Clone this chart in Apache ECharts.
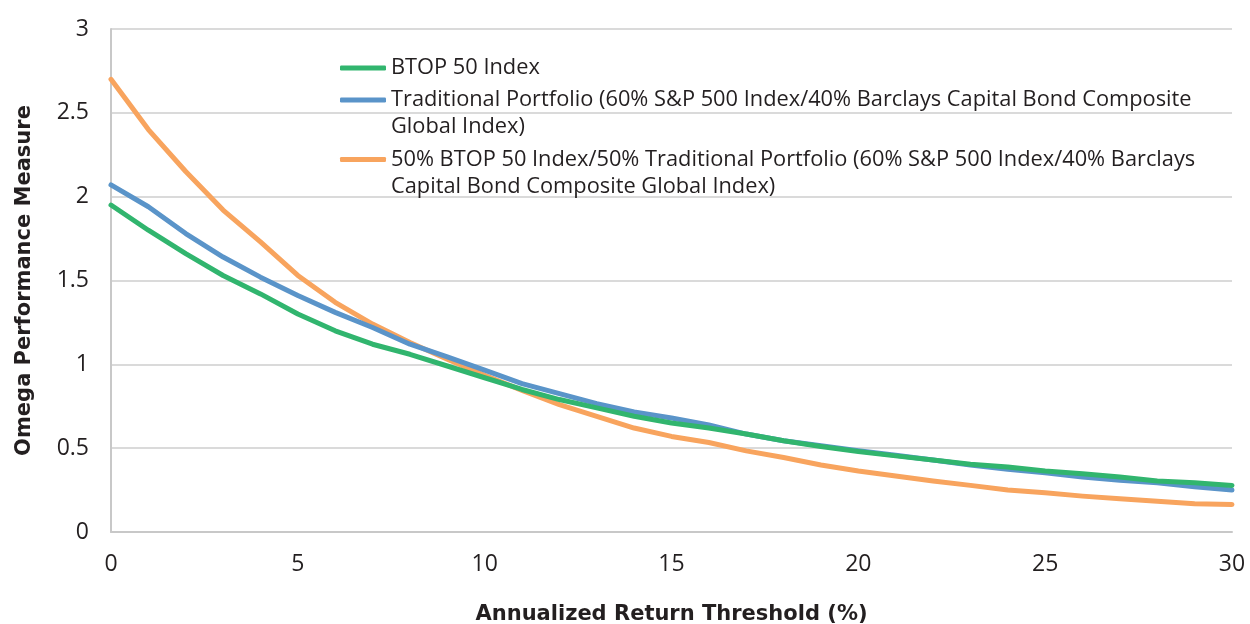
<!DOCTYPE html>
<html>
<head>
<meta charset="utf-8">
<script src="https://cdn.jsdelivr.net/npm/echarts@6/dist/echarts.min.js"></script>
<style>
html,body{margin:0;padding:0;background:#fff;}
#chart{width:1250px;height:624px;}
</style>
</head>
<body>
<div id="chart"></div>
<script>
const thresholds = [0,1,2,3,4,5,6,7,8,9,10,11,12,13,14,15,16,17,18,19,20,21,22,23,24,25,26,27,28,29,30];
const btop50 = [1.95,1.80,1.66,1.53,1.42,1.30,1.20,1.12,1.06,0.99,0.92,0.85,0.79,0.74,0.69,0.65,0.62,0.584,0.544,0.51,0.48,0.454,0.43,0.404,0.388,0.364,0.348,0.328,0.304,0.294,0.278];
const traditional = [2.07,1.94,1.78,1.64,1.52,1.41,1.31,1.22,1.12,1.045,0.965,0.885,0.825,0.766,0.716,0.68,0.638,0.584,0.544,0.514,0.484,0.458,0.43,0.40,0.374,0.354,0.328,0.308,0.294,0.27,0.25];
const blended = [2.70,2.40,2.15,1.92,1.73,1.53,1.37,1.24,1.13,1.03,0.935,0.845,0.76,0.69,0.62,0.57,0.534,0.484,0.444,0.40,0.364,0.334,0.304,0.278,0.25,0.234,0.214,0.198,0.184,0.168,0.164];

const seriesNames = [
  "BTOP 50 Index",
  "Traditional Portfolio (60% S&P 500 Index/40% Barclays Capital Bond Composite Global Index)",
  "50% BTOP 50 Index/50% Traditional Portfolio (60% S&P 500 Index/40% Barclays Capital Bond Composite Global Index)"
];
const legendLabels = [
  "BTOP 50 Index",
  "\nTraditional Portfolio (60% S&P 500 Index/40% Barclays Capital Bond Composite\nGlobal Index)",
  "\n50% BTOP 50 Index/50% Traditional Portfolio (60% S&P 500 Index/40% Barclays\nCapital Bond Composite Global Index)"
];
const colors = ["#31b56e", "#5a94c9", "#f8a45e"];
const values = [btop50, traditional, blended];
const legendTops = [54.5, 59.5, 119];

const FONT = "'Open Sans'";
const TITLE_FONT = "'DejaVu Sans'";
const TEXT = "#231f20";

const chart = echarts.init(document.getElementById('chart'), null, {renderer: 'canvas'});

const legends = seriesNames.map((n, i) => ({
  data: [n],
  orient: 'vertical',
  left: 340,
  top: legendTops[i],
  padding: 0,
  icon: 'roundRect',
  itemWidth: 46,
  itemHeight: 5,
  selectedMode: false,
  formatter: () => legendLabels[i],
  textStyle: {fontFamily: FONT, fontSize: 21.8, color: TEXT, lineHeight: 27}
}));

const series = seriesNames.map((n, i) => ({
  name: n,
  type: 'line',
  data: thresholds.map((x, j) => [x, values[i][j]]),
  symbol: 'none',
  smooth: false,
  color: colors[i],
  itemStyle: {color: colors[i]},
  lineStyle: {width: 5, color: colors[i], cap: 'round', join: 'round'},
  z: 3 - i
}));

chart.setOption({
  animation: false,
  backgroundColor: '#ffffff',
  grid: {left: 111, top: 29, right: 18, bottom: 92, containLabel: false, outerBoundsMode: 'none'},
  legend: legends,
  xAxis: {
    type: 'value', min: 0, max: 30, interval: 5,
    name: 'Annualized Return Threshold (%)',
    nameLocation: 'middle', nameGap: 72,
    nameTextStyle: {fontFamily: TITLE_FONT, fontSize: 21, fontWeight: 'bold', color: TEXT},
    axisLine: {show: true, lineStyle: {color: '#c8c8c8', width: 2}},
    axisTick: {show: false},
    axisLabel: {fontFamily: FONT, fontSize: 23, color: TEXT, margin: 21},
    splitLine: {show: false}
  },
  yAxis: {
    type: 'value', min: 0, max: 3, interval: 0.5,
    name: 'Omega Performance Measure',
    nameLocation: 'middle', nameGap: 76,
    nameTextStyle: {fontFamily: TITLE_FONT, fontSize: 21, fontWeight: 'bold', color: TEXT},
    axisLine: {show: true, lineStyle: {color: '#c8c8c8', width: 2}},
    axisTick: {show: false},
    axisLabel: {fontFamily: FONT, fontSize: 23, color: TEXT, margin: 22},
    splitLine: {show: true, lineStyle: {color: '#dadada', width: 2}}
  },
  series: series
});
</script>
</body>
</html>
